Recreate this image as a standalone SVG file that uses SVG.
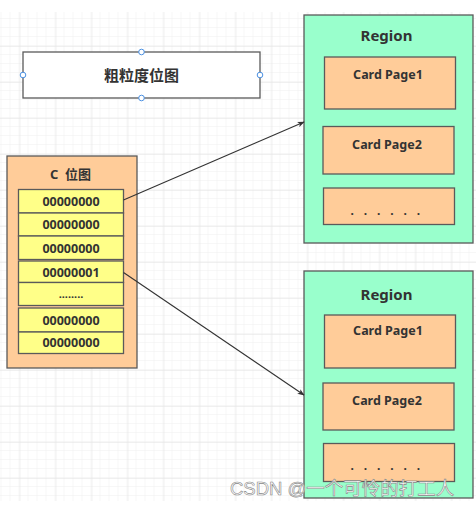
<svg xmlns="http://www.w3.org/2000/svg" width="476" height="507" viewBox="0 0 476 507">
<style>
.t{font-family:"Noto Sans","Noto Sans CJK SC",sans-serif;font-weight:bold;fill:#333;text-anchor:middle}
.box{stroke:#5a5a5a;stroke-width:1.3}
.region{fill:#99FFCC}
.card{fill:#FFCC99}
.cell{fill:#FFFF88}
.conn{stroke:#333;stroke-width:1.1;fill:none}
.h{fill:#fff;stroke:#4a90e2;stroke-width:1}
</style>
<defs>
<pattern id="minor" patternUnits="userSpaceOnUse" x="1.5" y="1" width="9" height="9">
<path d="M9 0V9M0 9H9" stroke="#efefef" stroke-width="1" fill="none"/>
</pattern>
<pattern id="major" patternUnits="userSpaceOnUse" x="19.5" y="10" width="36" height="36">
<path d="M0 0V36M0 0H36" stroke="#e2e2e2" stroke-width="1" fill="none"/>
</pattern>
<marker id="arr" viewBox="0 0 10 10" refX="9" refY="5" markerWidth="7" markerHeight="7" orient="auto" markerUnits="userSpaceOnUse">
<path d="M0 1L10 5L0 9L2.5 5Z" fill="#333"/>
</marker>
</defs>
<rect width="476" height="507" fill="#fff"/>
<rect x="0" y="12" width="476" height="489" fill="url(#minor)"/>
<rect x="0" y="12" width="476" height="489" fill="url(#major)"/>

<g id="coarse">
<rect class="box" x="23" y="52" width="237" height="46" fill="#fff"/>
<text class="t" x="141.5" y="80.5" font-size="15">粗粒度位图</text>
<circle class="h" cx="141.5" cy="52" r="2.8"/>
<circle class="h" cx="141.5" cy="98" r="2.8"/>
<circle class="h" cx="23" cy="75" r="2.8"/>
<circle class="h" cx="260" cy="75" r="2.8"/>
</g>

<g id="cbitmap">
<rect class="box card" x="7" y="156" width="130" height="212"/>
<text class="t" x="70.5" y="179" font-size="13" xml:space="preserve">C  位图</text>
<rect class="box cell" x="18.5" y="189.5" width="105" height="23.5"/>
<text class="t" x="71" y="206" font-size="12.5">00000000</text>
<rect class="box cell" x="18.5" y="213" width="105" height="23"/>
<text class="t" x="71" y="229" font-size="12.5">00000000</text>
<rect class="box cell" x="18.5" y="236" width="105" height="23.5"/>
<text class="t" x="71" y="252.5" font-size="12.5">00000000</text>
<rect class="box cell" x="18.5" y="261" width="105" height="21.5"/>
<text class="t" x="71" y="277" font-size="12.5">00000001</text>
<rect class="box cell" x="18.5" y="282.5" width="105" height="23"/>
<text class="t" x="71" y="298" font-size="11">........</text>
<rect class="box cell" x="18.5" y="308" width="105" height="24"/>
<text class="t" x="71" y="325" font-size="12.5">00000000</text>
<rect class="box cell" x="18.5" y="332" width="105" height="21.5"/>
<text class="t" x="71" y="347" font-size="12.5">00000000</text>
</g>

<g id="region1">
<rect class="box region" x="304" y="15" width="169" height="228"/>
<text class="t" x="386.5" y="41" font-size="15">Region</text>
<rect class="box card" x="324.5" y="57" width="131" height="52"/>
<text class="t" x="388" y="79" font-size="12.5">Card Page1</text>
<rect class="box card" x="323" y="126.5" width="131" height="47.5"/>
<text class="t" x="387" y="149" font-size="12.5">Card Page2</text>
<rect class="box card" x="323.5" y="188" width="131" height="36.5"/>
<text class="t" x="387" y="215" font-size="12" fill="#666" letter-spacing="3.4">. . . . . .</text>
</g>

<g id="region2">
<rect class="box region" x="304" y="271" width="169" height="227"/>
<text class="t" x="386.5" y="300" font-size="15">Region</text>
<rect class="box card" x="324.5" y="315" width="131" height="53"/>
<text class="t" x="388" y="335" font-size="12.5">Card Page1</text>
<rect class="box card" x="323" y="383" width="131" height="47"/>
<text class="t" x="387" y="405" font-size="12.5">Card Page2</text>
<rect class="box card" x="323.5" y="443.5" width="131" height="38"/>
<text class="t" x="387" y="470" font-size="12" fill="#666" letter-spacing="3.4">. . . . . .</text>
</g>

<g id="connectors">
<path class="conn" d="M123.5 200L304 122" marker-end="url(#arr)"/>
<path class="conn" d="M123.5 272.5L304 395" marker-end="url(#arr)"/>
</g>

<text x="230" y="495" font-family="'Liberation Sans','Noto Sans CJK SC',sans-serif" font-size="18.5" fill="#fff" stroke="#888" stroke-width="0.6">CSDN @一个可怜的打工人</text>
</svg>
